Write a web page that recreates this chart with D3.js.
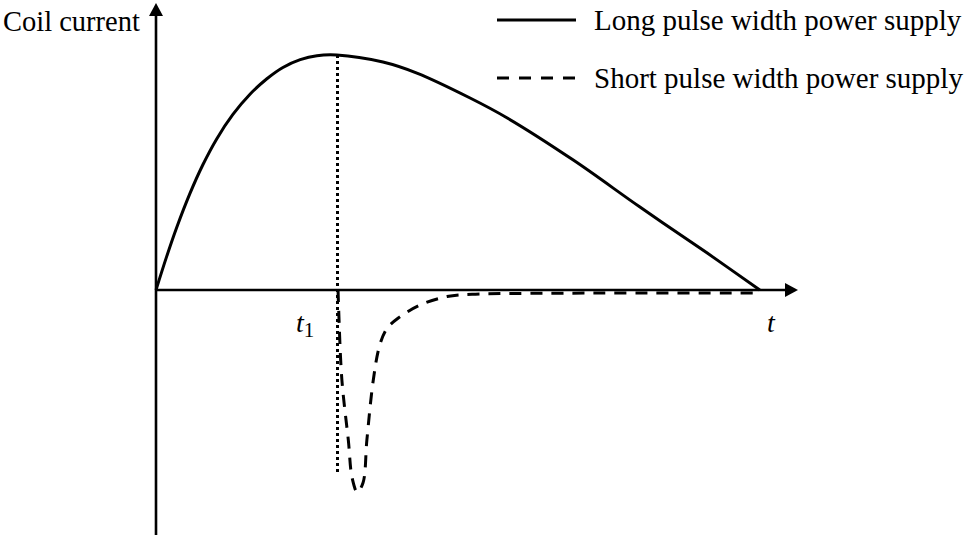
<!DOCTYPE html>
<html lang="en">
  <head>
    <meta charset="UTF-8" />
    <title>Coil current</title>
    <style>
      body {
        margin: 0;
        background: #fff;
      }
      svg text {
        font-family: "Liberation Serif", "Times New Roman", serif;
        fill: #000;
      }
    </style>
  </head>
  <body>
    <svg id="chart" width="968" height="538"></svg>

    <script src="https://d3js.org/d3.v7.min.js"></script>
    <script>
      // long pulse width supply (time, current)
      const tLong = [0, 1.67, 3.23, 5.3, 7.33, 9.47, 12.0, 14.7, 17.3, 19.8, 22.5, 25.1, 28.2, 35.4, 40.7, 49.0, 54.8, 65.1, 75.5, 86.0, 94.2];
      const iLong = [0, 14.3, 26.6, 41.1, 53.4, 64.3, 74.7, 83.4, 89.9, 94.7, 98.0, 99.7, 100, 97.0, 92.3, 81.7, 73.2, 55.3, 35.3, 15.7, 0];

      // short pulse width supply
      const tShort = [28.4, 28.5, 29.0, 30.0, 30.6, 31.4, 32.3, 32.9, 33.9, 34.9, 36.0, 37.8, 41.2, 45.4, 49.3, 60.0, 75.0, 93.4];
      const iShort = [0, -8.5, -38.3, -63.8, -80.0, -86.0, -82.0, -63.8, -38.3, -23.5, -16.5, -11.9, -6.4, -2.8, -1.8, -1.4, -1.3, -1.3];

      const t1 = 28.2;
      const t1Low = -77.4;
      const tickLabels = ["t", "1"];
      const axisLabels = ["Coil current", "t"];
      const seriesNames = ["Long pulse width power supply", "Short pulse width power supply"];

      const xMax = 100, yTop = 121.3, yBottom = -104.3;

      const svg = d3.select("#chart");
      const x = d3.scaleLinear().domain([0, 100]).range([156, 797]);
      const y = d3.scaleLinear().domain([0, 100]).range([290, 55]);

      // axes
      svg.append("line")
        .attr("x1", x(0)).attr("y1", y(yBottom))
        .attr("x2", x(0)).attr("y2", y(yTop) + 10)
        .attr("stroke", "#000").attr("stroke-width", 2.6);
      svg.append("path")
        .attr("d", `M${x(0)},${y(yTop) - 2} L${x(0) - 7},${y(yTop) + 11} L${x(0) + 7},${y(yTop) + 11} Z`)
        .attr("fill", "#000");

      svg.append("line")
        .attr("x1", x(0)).attr("y1", y(0))
        .attr("x2", x(xMax) - 10).attr("y2", y(0))
        .attr("stroke", "#000").attr("stroke-width", 2.6);
      svg.append("path")
        .attr("d", `M${x(xMax) + 1},${y(0)} L${x(xMax) - 12},${y(0) - 7} L${x(xMax) - 12},${y(0) + 7} Z`)
        .attr("fill", "#000");

      const line = d3.line()
        .x((d) => x(d[0]))
        .y((d) => y(d[1]))
        .curve(d3.curveCatmullRom.alpha(0.5));

      // dotted marker at t1
      svg.append("line")
        .attr("x1", Math.round(x(t1)) + 0.5).attr("y1", y(100))
        .attr("x2", Math.round(x(t1)) + 0.5).attr("y2", y(t1Low))
        .attr("stroke", "#000").attr("stroke-width", 3)
        .attr("stroke-dasharray", "3,3");

      svg.append("path")
        .datum(d3.zip(tShort, iShort))
        .attr("d", line)
        .attr("fill", "none")
        .attr("stroke", "#000")
        .attr("stroke-width", 3)
        .attr("stroke-dasharray", "12,9");

      svg.append("path")
        .datum(d3.zip(tLong, iLong))
        .attr("d", line)
        .attr("fill", "none")
        .attr("stroke", "#000")
        .attr("stroke-width", 3);

      // labels
      svg.append("text")
        .attr("x", 3).attr("y", 31)
        .style("font-size", "28.5px")
        .text(axisLabels[0]);

      svg.append("text")
        .attr("x", x(xMax) - 30).attr("y", 332)
        .style("font-size", "28px")
        .style("font-style", "italic")
        .text(axisLabels[1]);

      const t1Label = svg.append("text")
        .attr("x", 296).attr("y", 332)
        .style("font-size", "28px");
      t1Label.append("tspan").style("font-style", "italic").text(tickLabels[0]);
      t1Label.append("tspan").attr("dy", 5).style("font-size", "21px").text(tickLabels[1]);

      // legend
      const legendY = [20, 78];
      seriesNames.forEach((name, i) => {
        svg.append("line")
          .attr("x1", 497).attr("x2", 576)
          .attr("y1", legendY[i]).attr("y2", legendY[i])
          .attr("stroke", "#000").attr("stroke-width", 3)
          .attr("stroke-dasharray", i === 1 ? "12,10" : null);
        svg.append("text")
          .attr("x", 594).attr("y", legendY[i] + 10)
          .style("font-size", "29px")
          .text(name);
      });
    </script>
  </body>
</html>
